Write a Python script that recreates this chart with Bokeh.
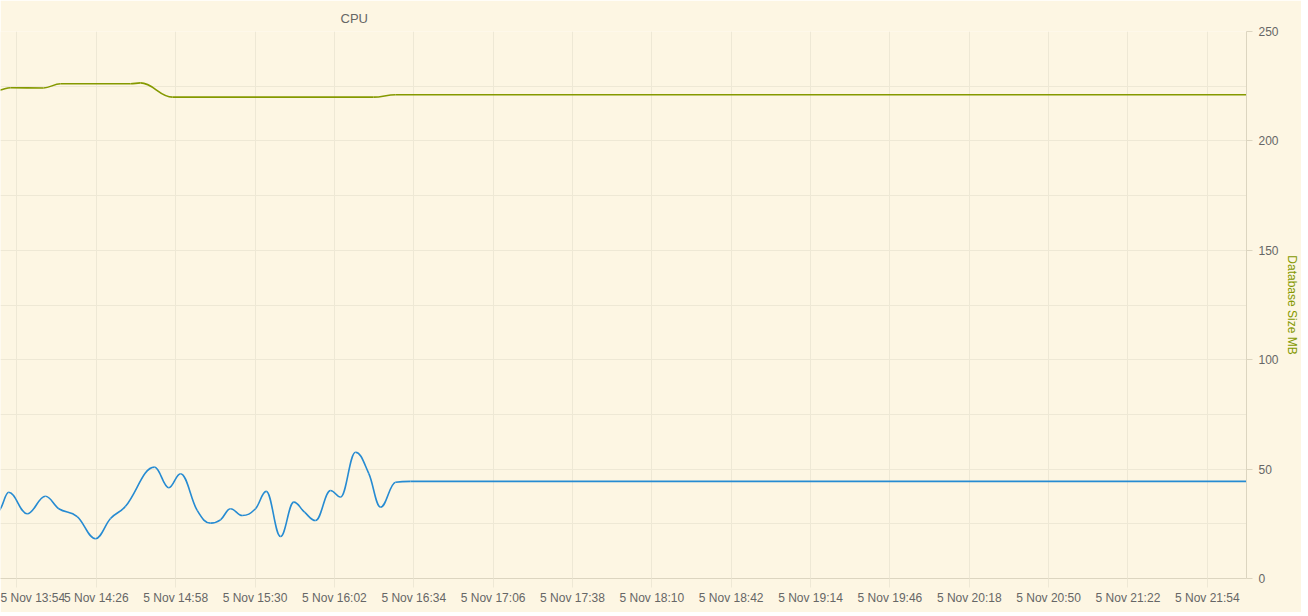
import pandas as pd
from bokeh.plotting import figure
from bokeh.models import FixedTicker, DatetimeTickFormatter, Range1d
from bokeh.embed import file_html
from bokeh.resources import INLINE

DATE = "2024-11-05"

# CPU series (blue) - read on the visible scale
cpu_times = ["13:44:00", "13:47:21", "13:50:41", "13:58:07", "14:05:29", "14:10:52", "14:18:17",
             "14:25:40", "14:31:43", "14:37:46", "14:49:27", "14:55:13", "14:59:56",
             "15:06:40", "15:12:02", "15:16:04", "15:20:06", "15:24:49", "15:30:11",
             "15:34:30", "15:40:16", "15:45:38", "15:49:57", "15:54:23", "16:00:26",
             "16:04:28", "16:10:31", "16:15:53", "16:20:36", "16:26:39", "16:32:42",
             "22:09:48"]
cpu_values = [27.0, 31.9, 39.4, 29.6, 37.6, 31.9, 28.3,
              18.2, 27.4, 33.0, 50.9, 41.5, 47.9,
              31.1, 25.3, 26.8, 31.9, 28.8, 31.9,
              39.8, 19.2, 34.9, 30.3, 26.5, 40.2,
              37.2, 57.7, 47.9, 32.6, 44.0, 44.4,
              44.4]

# Database size series (olive)
db_times = ["13:44:00", "13:47:21", "13:51:23", "14:04:41", "14:11:33", "14:39:46", "14:43:48",
            "14:56:43", "16:17:45", "16:26:39", "22:09:48"]
db_values = [223.0, 223.3, 224.3, 224.2, 226.1, 226.1, 226.5,
             220.0, 220.0, 221.1, 221.1]

x_tick_times = ["13:54", "14:26", "14:58", "15:30", "16:02", "16:34", "17:06", "17:38",
                "18:10", "18:42", "19:14", "19:46", "20:18", "20:50", "21:22", "21:54"]
y_ticks = [0, 50, 100, 150, 200, 250]
y_grid_ticks = [0, 25, 50, 75, 100, 125, 150, 175, 200, 225, 250]
x_start, x_end = "13:47:21", "22:09:48"

title_text = "CPU"
y_axis_title = "Database Size MB"


def ms(t):
    return pd.Timestamp(f"{DATE} {t}").value // 10**6


def spline(xs, ys, smoothing=1.5):
    """Highcharts-style spline: returns bezier segment arrays."""
    n = len(xs)
    denom = smoothing + 1
    lc = [(x, y) for x, y in zip(xs, ys)]
    rc = [(x, y) for x, y in zip(xs, ys)]
    for i in range(1, n - 1):
        px, py = xs[i], ys[i]
        lx, ly = xs[i - 1], ys[i - 1]
        nx, ny = xs[i + 1], ys[i + 1]
        lcx = (smoothing * px + lx) / denom
        lcy = (smoothing * py + ly) / denom
        rcx = (smoothing * px + nx) / denom
        rcy = (smoothing * py + ny) / denom
        corr = 0
        if rcx != lcx:
            corr = (rcy - lcy) * (rcx - px) / (rcx - lcx) + py - rcy
        lcy += corr
        rcy += corr
        if lcy > ly and lcy > py:
            lcy = max(ly, py); rcy = 2 * py - lcy
        elif lcy < ly and lcy < py:
            lcy = min(ly, py); rcy = 2 * py - lcy
        if rcy > ny and rcy > py:
            rcy = max(ny, py); lcy = 2 * py - rcy
        elif rcy < ny and rcy < py:
            rcy = min(ny, py); lcy = 2 * py - rcy
        lc[i] = (lcx, lcy)
        rc[i] = (rcx, rcy)
    seg = dict(x0=[], y0=[], x1=[], y1=[], cx0=[], cy0=[], cx1=[], cy1=[])
    for i in range(1, n):
        seg["x0"].append(xs[i - 1]); seg["y0"].append(ys[i - 1])
        seg["x1"].append(xs[i]); seg["y1"].append(ys[i])
        seg["cx0"].append(rc[i - 1][0]); seg["cy0"].append(rc[i - 1][1])
        seg["cx1"].append(lc[i][0]); seg["cy1"].append(lc[i][1])
    return seg


BG = "#FDF6E3"
GRID = "#EEE8D5"
AXIS = "#DCD5C0"
LABEL = "#666666"
FONT = "Liberation Sans"

tick_ms = [ms(t + ":00") for t in x_tick_times]

p = figure(frame_width=1246, frame_height=547, x_axis_type="datetime",
           y_axis_location="right", output_backend="svg", toolbar_location=None,
           x_range=Range1d(ms(x_start), ms(x_end)), y_range=Range1d(0, 250),
           min_border_left=0, min_border_top=31, min_border_bottom=34,
           min_border_right=54)

p.background_fill_color = BG
p.border_fill_color = BG
p.outline_line_color = None

# title
p.title.text = title_text
p.title.align = "left"
p.title.offset = 340
p.title.standoff = 12
p.title.text_font = FONT
p.title.text_font_size = "13px"
p.title.text_font_style = "normal"
p.title.text_color = "#666666"

# grids
p.xgrid.grid_line_color = GRID
p.ygrid.grid_line_color = GRID
p.ygrid.ticker = FixedTicker(ticks=y_grid_ticks)

# x axis
xa = p.xaxis[0]
xa.ticker = FixedTicker(ticks=tick_ms)
fmt = "%-d %b %H:%M"
xa.formatter = DatetimeTickFormatter(seconds=fmt, minsec=fmt, minutes=fmt, hourmin=fmt,
                                     hours=fmt, days=fmt, months=fmt, years=fmt)
xa.axis_line_color = AXIS
xa.major_tick_line_color = GRID
xa.major_tick_out = 9
xa.major_tick_in = 0
xa.minor_tick_line_color = None
xa.major_label_text_color = LABEL
xa.major_label_text_font = FONT
xa.major_label_text_font_size = "12px"
xa.major_label_standoff = 3

# right y axis
ya = p.yaxis[0]
ya.ticker = FixedTicker(ticks=y_ticks)
ya.axis_line_color = AXIS
ya.major_tick_line_color = AXIS
ya.major_tick_out = 6
ya.major_tick_in = 0
ya.minor_tick_line_color = None
ya.major_label_text_color = LABEL
ya.major_label_text_font = FONT
ya.major_label_text_font_size = "12px"
ya.major_label_standoff = 6
ya.axis_label = y_axis_title
ya.axis_label_text_color = "#859900"
ya.axis_label_text_font = FONT
ya.axis_label_text_font_size = "12px"
ya.axis_label_text_font_style = "normal"
ya.axis_label_standoff = 3

# series
db_seg = spline([ms(t) for t in db_times], db_values)
p.bezier(source=db_seg, x0="x0", y0="y0", x1="x1", y1="y1", cx0="cx0", cy0="cy0",
         cx1="cx1", cy1="cy1", line_color="#859900", line_width=1.6)
cpu_seg = spline([ms(t) for t in cpu_times], cpu_values)
p.bezier(source=cpu_seg, x0="x0", y0="y0", x1="x1", y1="y1", cx0="cx0", cy0="cy0",
         cx1="cx1", cy1="cy1", line_color="#268BD2", line_width=1.6)

open("out.html", "w").write(file_html(p, INLINE))
